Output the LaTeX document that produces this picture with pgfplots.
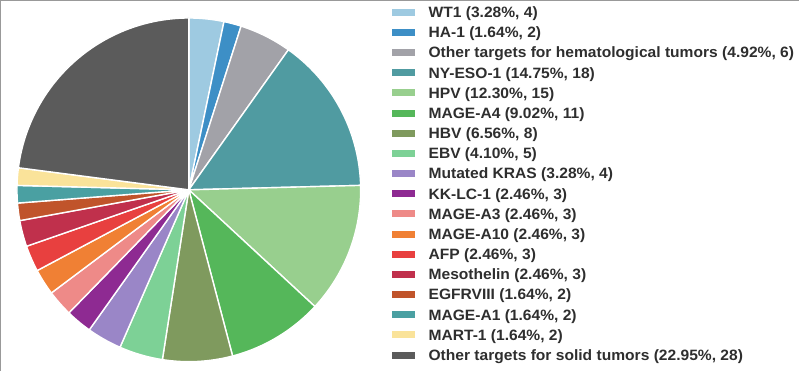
\documentclass[border=0pt]{standalone}
\usepackage{pgfplots}
\pgfplotsset{compat=1.18}
\usepackage{fontspec}
\setmainfont{Liberation Sans}[FakeStretch=1.04]
\definecolor{cWT}{HTML}{9ECAE1}
\definecolor{cHA}{HTML}{3D8FC6}
\definecolor{cOH}{HTML}{A2A2A8}
\definecolor{cNY}{HTML}{509BA1}
\definecolor{cHPV}{HTML}{98CF8E}
\definecolor{cA4}{HTML}{55B75A}
\definecolor{cHBV}{HTML}{7F9A5E}
\definecolor{cEBV}{HTML}{7DD196}
\definecolor{cKRAS}{HTML}{9A86C7}
\definecolor{cKK}{HTML}{8E2A92}
\definecolor{cA3}{HTML}{EE8A88}
\definecolor{cA10}{HTML}{F08034}
\definecolor{cAFP}{HTML}{E8403F}
\definecolor{cMES}{HTML}{C0304C}
\definecolor{cEGF}{HTML}{C0542B}
\definecolor{cA1}{HTML}{4AA0A2}
\definecolor{cMART}{HTML}{FAE39A}
\definecolor{cOS}{HTML}{5B5B5B}
% #1 = cumulative count before slice, #2 = count, #3 = colour (total 122)
\newcommand{\slice}[3]{%
  \addplot[fill=#3, draw=white, line width=1.4bp, samples=50,
    domain=90-360*(#1+#2)/122:90-360*(#1)/122]
    ({189+172*cos(x)}, {181+172*sin(x)}) -- (axis cs:189,181) -- cycle;
}
\begin{document}
\begin{tikzpicture}
\begin{axis}[
  scale only axis, width=800bp, height=371bp,
  xmin=0, xmax=800, ymin=0, ymax=371,
  hide axis, clip=false,
  legend cell align=left,
  legend image code/.code={\fill[#1, draw=none] (0bp,-3.5bp) rectangle (23bp,3.5bp);},
  legend style={at={(0.49,0.99404)}, anchor=north west, draw=none, fill=none,
    inner sep=0pt, outer sep=0pt, row sep=0pt, column sep=14bp,
    font=\fontsize{15bp}{18bp}\selectfont\bfseries, text=black!82,
    nodes={inner sep=0pt, text height=15.44bp, text depth=4.74bp}},
]
\slice{0}{4}{cWT}
\addlegendentry{WT1 (3.28\%, 4)}
\slice{4}{2}{cHA}
\addlegendentry{HA-1 (1.64\%, 2)}
\slice{6}{6}{cOH}
\addlegendentry{Other targets for hematological tumors (4.92\%, 6)}
\slice{12}{18}{cNY}
\addlegendentry{NY-ESO-1 (14.75\%, 18)}
\slice{30}{15}{cHPV}
\addlegendentry{HPV (12.30\%, 15)}
\slice{45}{11}{cA4}
\addlegendentry{MAGE-A4 (9.02\%, 11)}
\slice{56}{8}{cHBV}
\addlegendentry{HBV (6.56\%, 8)}
\slice{64}{5}{cEBV}
\addlegendentry{EBV (4.10\%, 5)}
\slice{69}{4}{cKRAS}
\addlegendentry{Mutated KRAS (3.28\%, 4)}
\slice{73}{3}{cKK}
\addlegendentry{KK-LC-1 (2.46\%, 3)}
\slice{76}{3}{cA3}
\addlegendentry{MAGE-A3 (2.46\%, 3)}
\slice{79}{3}{cA10}
\addlegendentry{MAGE-A10 (2.46\%, 3)}
\slice{82}{3}{cAFP}
\addlegendentry{AFP (2.46\%, 3)}
\slice{85}{3}{cMES}
\addlegendentry{Mesothelin (2.46\%, 3)}
\slice{88}{2}{cEGF}
\addlegendentry{EGFRVIII (1.64\%, 2)}
\slice{90}{2}{cA1}
\addlegendentry{MAGE-A1 (1.64\%, 2)}
\slice{92}{2}{cMART}
\addlegendentry{MART-1 (1.64\%, 2)}
\slice{94}{28}{cOS}
\addlegendentry{Other targets for solid tumors (22.95\%, 28)}
\draw[black!40, line width=1.5bp] (axis cs:0.75,0) -- (axis cs:0.75,370.25) -- (axis cs:800,370.25);
\end{axis}
\end{tikzpicture}
\end{document}
